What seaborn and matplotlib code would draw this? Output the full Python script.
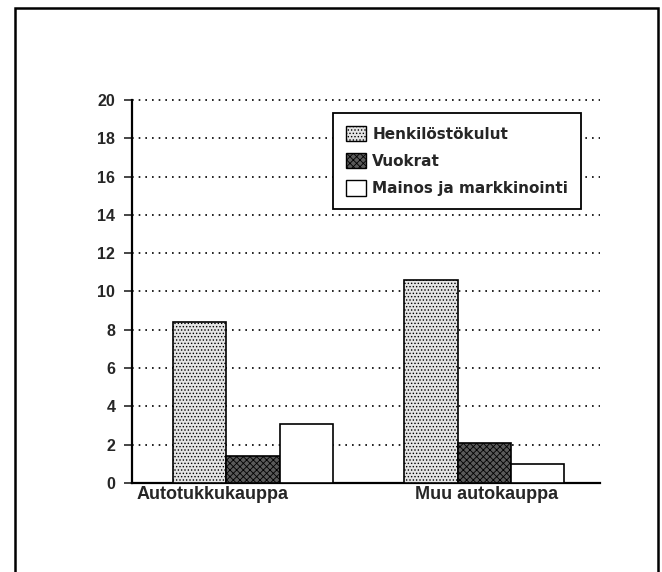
import matplotlib
matplotlib.use('Agg')
import matplotlib.pyplot as plt
import matplotlib.patches as mpatches
import pandas as pd
import seaborn as sns

# Chart data
categories = ['Autotukkukauppa', 'Muu autokauppa']
series = ['Henkilöstökulut', 'Vuokrat', 'Mainos ja markkinointi']
henkilosto = [8.4, 10.6]
vuokrat = [1.4, 2.1]
mainos = [3.1, 1.0]
y_ticks = [0, 2, 4, 6, 8, 10, 12, 14, 16, 18, 20]

df = pd.DataFrame({
    'kategoria': categories * 3,
    'sarja': [series[0]] * 2 + [series[1]] * 2 + [series[2]] * 2,
    'arvo': henkilosto + vuokrat + mainos,
})

sns.set_style('white')
plt.rcParams['font.family'] = ['Liberation Sans', 'DejaVu Sans']
plt.rcParams['hatch.linewidth'] = 0.6

fig = plt.figure(figsize=(6.62, 5.72), dpi=100)
ax = fig.add_axes([0.1994, 0.1556, 0.707, 0.6696])

# Outer frame around the whole picture
frame = mpatches.Rectangle((15 / 662, -0.05), 643 / 662, 1.05 - 8 / 572,
                           transform=fig.transFigure, fill=False,
                           edgecolor='black', linewidth=1.8, clip_on=False)
fig.patches.append(frame)

sns.barplot(data=df, x='kategoria', y='arvo', hue='sarja', hue_order=series,
            order=categories, width=0.69, gap=0, edgecolor='black',
            linewidth=1.2, ax=ax, legend=False, zorder=3)

faces = ['#e4e4e4', '#5a5a5a', 'white']
hatches = ['.....', 'xxxxx', '']
for container, fc, h in zip(ax.containers, faces, hatches):
    for bar in container:
        bar.set_facecolor(fc)
        bar.set_hatch(h)
        bar.set_edgecolor('black')

ax.set_xlim(-0.524, 1.502)
ax.set_ylim(0, 20)
ax.set_yticks(y_ticks)
ax.set_yticklabels([str(t) for t in y_ticks], fontsize=11.5, fontweight='bold')
for y in y_ticks[1:]:
    ax.axhline(y, color='black', linestyle=(0, (1, 3)), linewidth=1.2,
               zorder=1, clip_on=False)

ax.set_xticks([-0.175, 1.01])
ax.set_xticklabels(categories, fontsize=13, fontweight='bold')
ax.tick_params(axis='x', length=0, pad=2)
ax.tick_params(axis='y', direction='out', length=6, width=1.2, left=True, pad=6)
ax.set_xlabel('')
ax.set_ylabel('')
for side in ['top', 'right']:
    ax.spines[side].set_visible(False)
for side in ['left', 'bottom']:
    ax.spines[side].set_linewidth(1.6)
    ax.spines[side].set_color('black')

handles = [mpatches.Patch(facecolor=fc, hatch=h, edgecolor='black', label=s)
           for fc, h, s in zip(faces, hatches, series)]
leg = ax.legend(handles=handles, loc='upper left', bbox_to_anchor=(0.43, 0.966),
                frameon=True, fancybox=False, framealpha=1, edgecolor='black',
                prop={'family': 'DejaVu Sans', 'weight': 'bold', 'size': 11},
                handlelength=1.3, handleheight=1.15, handletextpad=0.4,
                labelspacing=0.75, borderpad=0.85, borderaxespad=0)
leg.get_frame().set_linewidth(1.3)
leg.set_zorder(5)

fig.savefig('out.png', dpi=100)
